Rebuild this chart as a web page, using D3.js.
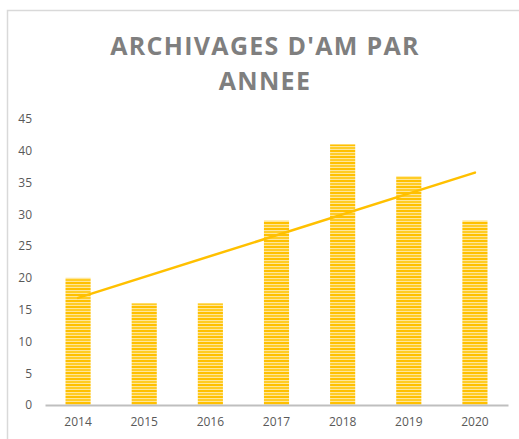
<!DOCTYPE html>
<html lang="fr">
<head>
<meta charset="UTF-8">
<title>Archivages d'AM par année</title>
<script src="https://cdn.jsdelivr.net/npm/d3@7"></script>
<style>
  body { margin:0; background:#fff; }
  .tick text { fill:#595959; font-family:"Open Sans", "Liberation Sans", sans-serif; font-size:12px; }
  .title { fill:#7f7f7f; font-family:"Open Sans", "Liberation Sans", sans-serif; font-weight:bold; font-size:25px; letter-spacing:1.3px; }
</style>
</head>
<body>
<script>
var years = ["2014","2015","2016","2017","2018","2019","2020"];
var counts = [20, 16, 16, 29, 41, 36, 29];
var yTicks = [0,5,10,15,20,25,30,35,40,45];
var titleLines = ["ARCHIVAGES D'AM PAR", "ANNEE"];

var width = 519, height = 439;
var margin = {top:119, right:11, bottom:34, left:45};

var svg = d3.select("body").append("svg")
    .attr("width", width).attr("height", height);

// striped fill like the excel bars
var defs = svg.append("defs");
var pat = defs.append("pattern").attr("id","stripes")
    .attr("patternUnits","userSpaceOnUse").attr("width",10).attr("height",6);
pat.append("rect").attr("width",10).attr("height",6).attr("fill","#ffe699");
pat.append("rect").attr("y",0).attr("width",10).attr("height",2).attr("fill","#ffc000");
pat.append("rect").attr("y",3).attr("width",10).attr("height",2).attr("fill","#ffcc26");

// chart frame
svg.append("rect").attr("x",7.5).attr("y",10.5)
    .attr("width",530).attr("height",450)
    .attr("fill","none").attr("stroke","#d9d9d9").attr("stroke-width",1.5);

svg.selectAll("text.title").data(titleLines).enter().append("text")
    .attr("class","title")
    .attr("x",265).attr("y",function(d,i){ return 55 + i*35; })
    .attr("text-anchor","middle")
    .text(function(d){ return d; });

var x = d3.scaleBand().domain(years)
    .range([margin.left, width - margin.right])
    .paddingInner(0.62).paddingOuter(0.31);
var y = d3.scaleLinear().domain([0,45])
    .range([height - margin.bottom, margin.top]);

var yAxis = svg.append("g").attr("transform","translate(" + margin.left + ",0)")
    .call(d3.axisLeft(y).tickValues(yTicks).tickSize(0).tickPadding(13));
yAxis.select(".domain").remove();

svg.selectAll("rect.bar").data(counts).enter().append("rect")
    .attr("class","bar")
    .attr("x", function(d,i){ return x(years[i]); })
    .attr("width", x.bandwidth())
    .attr("y", function(d){ return y(d); })
    .attr("height", function(d){ return y(0) - y(d); })
    .attr("fill","url(#stripes)");

var xAxis = svg.append("g").attr("transform","translate(0," + (height - margin.bottom) + ")")
    .call(d3.axisBottom(x).tickSize(0).tickPadding(12));
xAxis.select(".domain").attr("stroke","#bfbfbf").attr("stroke-width",2);

// linear trendline (least squares on the bar values)
var n = counts.length;
var mx = d3.mean(counts, function(d,i){ return i; });
var my = d3.mean(counts);
var sxy = d3.sum(counts, function(d,i){ return (i-mx)*(d-my); });
var sxx = d3.sum(counts, function(d,i){ return (i-mx)*(i-mx); });
var slope = sxy / sxx, icpt = my - slope*mx;
var trend = [0, n-1].map(function(i){ return {i:i, v:icpt + slope*i}; });

svg.append("path")
    .attr("d", d3.line()
        .x(function(d){ return x(years[d.i]) + x.bandwidth()/2; })
        .y(function(d){ return y(d.v); })(trend))
    .attr("fill","none").attr("stroke","#ffc000").attr("stroke-width",2.5)
    .attr("stroke-linecap","round");
</script>
</body>
</html>
